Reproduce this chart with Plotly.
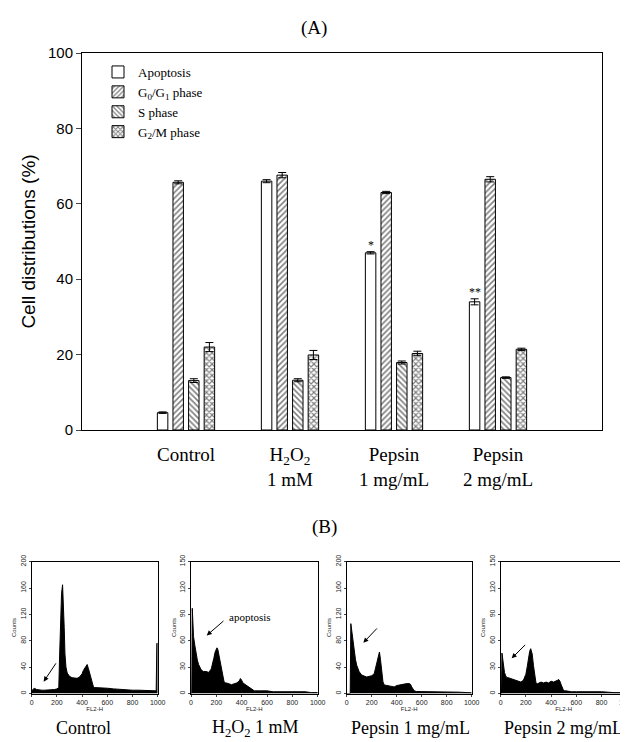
import plotly.graph_objects as go

# ---------------- Panel A data ----------------
groups = ["Control", "H<sub>2</sub>O<sub>2</sub><br>1 mM", "Pepsin<br>1 mg/mL", "Pepsin<br>2 mg/mL"]
group_pos = [0, 1, 2, 3]
series_names = ["Apoptosis", "G<sub>0</sub>/G<sub>1</sub> phase", "S phase", "G<sub>2</sub>/M phase"]
apoptosis = [4.6, 66.0, 47.0, 34.0]
apoptosis_err = [0.2, 0.4, 0.3, 0.8]
g0g1 = [65.7, 67.6, 63.0, 66.5]
g0g1_err = [0.4, 0.7, 0.3, 0.7]
s_phase = [13.1, 13.2, 17.9, 13.9]
s_phase_err = [0.5, 0.4, 0.4, 0.2]
g2m = [22.0, 19.9, 20.3, 21.4]
g2m_err = [1.2, 1.2, 0.6, 0.3]
sig_marks = ["", "", "*", "**"]
y_ticks = [0, 20, 40, 60, 80, 100]

# ---------------- Panel B data (FL2-H, counts) ----------------
hist_labels = ["Control", "H<sub>2</sub>O<sub>2</sub> 1 mM", "Pepsin 1 mg/mL", "Pepsin 2 mg/mL"]
hist_ymax = [200, 150, 200, 150]
hist_dtick = [40, 30, 40, 30]
control_hist = [(0, 4), (20, 8), (40, 6), (60, 5), (80, 5), (100, 5), (120, 5), (140, 5), (160, 6),
                (180, 6), (200, 7), (215, 9), (222, 60), (230, 120), (237, 152), (245, 165), (252, 140),
                (258, 100), (264, 60), (272, 40), (282, 31), (300, 26), (320, 24), (340, 23), (360, 23),
                (380, 25), (400, 30), (410, 35), (420, 38), (430, 40), (440, 44), (450, 38), (460, 30),
                (470, 22), (480, 14), (490, 10), (500, 9), (520, 9), (560, 8), (600, 8), (650, 7),
                (700, 6), (750, 6), (800, 5), (850, 5), (900, 5), (950, 4), (988, 4), (993, 76), (1000, 76)]
h2o2_hist = [(0, 0), (6, 0), (10, 97), (15, 80), (20, 65), (30, 55), (40, 45), (50, 38), (60, 33),
             (70, 30), (80, 27), (90, 26), (100, 25), (120, 25), (140, 24), (160, 28), (170, 33),
             (180, 40), (190, 47), (205, 52), (212, 50), (220, 44), (230, 35), (240, 25), (250, 18),
             (260, 14), (270, 12), (280, 12), (300, 11), (320, 10), (340, 11), (360, 12), (380, 14),
             (390, 17), (400, 15), (410, 12), (420, 11), (440, 9), (460, 8), (480, 5), (500, 3),
             (550, 3), (600, 3), (650, 2), (700, 2), (800, 2), (900, 2), (950, 1), (1000, 1)]
pepsin1_hist = [(0, 0), (28, 0), (33, 106), (40, 95), (50, 80), (60, 65), (70, 52), (80, 43),
                (90, 38), (100, 33), (120, 28), (140, 26), (160, 25), (180, 26), (200, 27), (220, 30),
                (230, 38), (240, 45), (250, 55), (262, 63), (270, 52), (280, 32), (290, 18), (300, 13),
                (320, 12), (340, 11), (360, 11), (380, 10), (400, 12), (420, 13), (440, 13), (460, 14),
                (480, 15), (500, 15), (510, 14), (520, 10), (530, 7), (540, 4), (560, 3), (600, 3),
                (650, 3), (700, 2), (800, 2), (900, 2), (1000, 1)]
pepsin2_hist = [(0, 0), (6, 0), (10, 46), (15, 40), (20, 30), (30, 24), (40, 20), (50, 18), (60, 18),
                (80, 17), (100, 16), (120, 15), (140, 14), (160, 13), (180, 15), (190, 18), (200, 22),
                (210, 30), (220, 40), (230, 48), (238, 51), (250, 45), (260, 32), (270, 18), (280, 12),
                (290, 11), (300, 12), (320, 13), (340, 12), (360, 13), (380, 12), (400, 14), (420, 13),
                (440, 14), (450, 15), (460, 16), (470, 14), (480, 10), (490, 5), (500, 3), (520, 3),
                (560, 2), (600, 2), (700, 2), (800, 2), (900, 1), (1000, 1)]
hist_data = [control_hist, h2o2_hist, pepsin1_hist, pepsin2_hist]
# arrows: (tail_x, tail_y, head_x, head_y) in data units
arrows = [(200, 48, 95, 18), (268, 84, 124, 66), (253, 101, 133, 77), (206, 57, 87, 40)]

SERIF = "Liberation Serif"
SANS = "Liberation Sans"
W, H, OFF = 628, 742, 8  # page body margin compensation


def px(sx):
    return (sx - OFF) / W


def py(sy):
    return 1 - (sy - OFF) / H


fig = go.Figure()

patterns = [dict(shape=""), dict(shape="/", size=4, solidity=0.4),
            dict(shape="\\", size=4, solidity=0.4), dict(shape="x", size=4, solidity=0.5)]
values = [apoptosis, g0g1, s_phase, g2m]
errs = [apoptosis_err, g0g1_err, s_phase_err, g2m_err]
for name, vals, err, pat in zip(series_names, values, errs, patterns):
    p = dict(pat)
    if p["shape"]:
        p.update(fgcolor="black", bgcolor="white", fillmode="overlay")
    fig.add_trace(go.Bar(
        x=group_pos, y=vals, name=name,
        marker=dict(color="white", line=dict(color="black", width=1), pattern=p),
        error_y=dict(type="data", array=err, visible=True, color="black", thickness=1, width=4),
        xaxis="x", yaxis="y",
    ))

# significance marks
for i, m in enumerate(sig_marks):
    if m:
        fig.add_annotation(x=group_pos[i] - 0.225, y=apoptosis[i] + apoptosis_err[i],
                           xref="x", yref="y", text=m, showarrow=False, yanchor="bottom",
                           xanchor="center",
                           font=dict(family=SERIF, size=12, color="black"), yshift=-2)

# ---------------- Panel B ----------------
box_x = [(31.7, 157.7), (191, 317.7), (346.7, 471.7), (500.7, 626.7)]
x_domains = [[px(a), px(b)] for a, b in box_x]
y_domain_b = [py(693.5), py(561.7)]
label_cx = [83, 255, 410, 563]
for k in range(4):
    ax = k + 2
    xs = [p[0] for p in hist_data[k]]
    ys = [p[1] for p in hist_data[k]]
    fig.add_trace(go.Scatter(x=xs, y=ys, mode="lines", fill="tozeroy", fillcolor="black",
                             line=dict(color="black", width=1), showlegend=False,
                             xaxis=f"x{ax}", yaxis=f"y{ax}"))
    fig.update_layout(**{
        f"xaxis{ax}": dict(domain=x_domains[k], anchor=f"y{ax}", range=[0, 1000], automargin=False,
                           tickvals=[0, 200, 400, 600, 800, 1000], showline=True, mirror=True,
                           linecolor="black", linewidth=1, ticks="outside", ticklen=2,
                           tickfont=dict(family=SANS, size=7, color="#222"), showgrid=False,
                           zeroline=False,
                           title=dict(text="FL2-H", font=dict(family=SANS, size=6, color="#222"),
                                      standoff=0)),
        f"yaxis{ax}": dict(domain=y_domain_b, anchor=f"x{ax}", range=[0, hist_ymax[k]],
                           automargin=False,
                           dtick=hist_dtick[k], showline=True, mirror=True, linecolor="black",
                           linewidth=1, ticks="outside", ticklen=2, tickangle=-90,
                           tickfont=dict(family=SANS, size=7, color="#222"), showgrid=False,
                           zeroline=False,
                           title=dict(text="Counts", font=dict(family=SANS, size=6, color="#222"),
                                      standoff=2)),
    })
    tx, ty, hx, hy = arrows[k]
    fig.add_annotation(x=hx, y=hy, ax=tx, ay=ty, xref=f"x{ax}", yref=f"y{ax}",
                       axref=f"x{ax}", ayref=f"y{ax}", showarrow=True, arrowhead=2,
                       arrowsize=1, arrowwidth=1, arrowcolor="black", text="")
    fig.add_annotation(x=px(label_cx[k]), y=py(728), xref="paper", yref="paper",
                       xanchor="center", yanchor="middle",
                       text=hist_labels[k], showarrow=False,
                       font=dict(family=SERIF, size=18, color="black"))

fig.add_annotation(x=466, y=87, xref="x3", yref="y3", text="apoptosis", showarrow=False,
                   xanchor="center", yanchor="middle",
                   font=dict(family=SERIF, size=11, color="black"))

# titles
fig.add_annotation(x=px(314), y=py(28), xref="paper", yref="paper", text="(A)",
                   xanchor="center", yanchor="middle",
                   showarrow=False, font=dict(family=SERIF, size=19, color="black"))
fig.add_annotation(x=px(324), y=py(527), xref="paper", yref="paper", text="(B)",
                   xanchor="center", yanchor="middle",
                   showarrow=False, font=dict(family=SERIF, size=19, color="black"))

fig.update_layout(
    width=W, height=H,
    margin=dict(l=0, r=0, t=0, b=0, autoexpand=False),
    paper_bgcolor="white", plot_bgcolor="white",
    barmode="group", bargap=0.4, bargroupgap=0.33,
    showlegend=True,
    legend=dict(x=px(98), y=py(57), xanchor="left", yanchor="top", bgcolor="rgba(0,0,0,0)",
                font=dict(family=SERIF, size=13, color="black"), tracegroupgap=1),
    xaxis=dict(domain=[px(82), px(602)], anchor="y", range=[-1, 4], automargin=False,
               tickvals=group_pos, ticktext=groups, showline=True, mirror=True,
               linecolor="black", linewidth=1, ticks="", showgrid=False, zeroline=False,
               ticklabelstandoff=7, tickfont=dict(family=SERIF, size=19, color="black")),
    yaxis=dict(domain=[py(430), py(53)], anchor="x", range=[0, 100], tickvals=y_ticks,
               automargin=False,
               showline=True, mirror=True, linecolor="black", linewidth=1, ticks="outside",
               ticklen=5, showgrid=False, zeroline=False,
               tickfont=dict(family=SANS, size=15, color="black"),
               title=dict(text="Cell distributions (%)",
                          font=dict(family=SANS, size=19, color="black"), standoff=7)),
)

fig.write_html("out.html")
